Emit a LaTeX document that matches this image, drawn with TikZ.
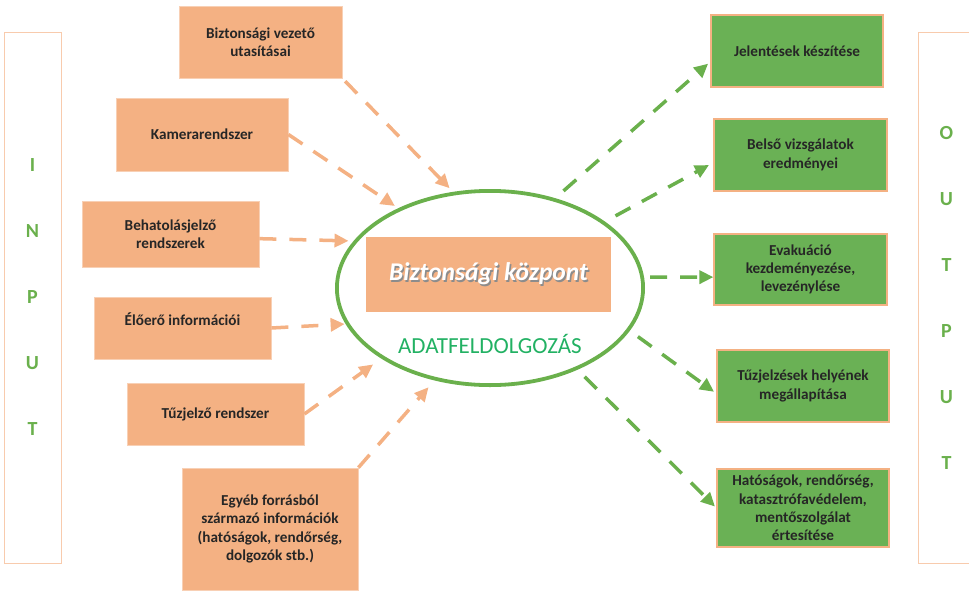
\documentclass[tikz,border=0pt]{standalone}
\usepackage{fontspec}
\setmainfont{Carlito}
\usepackage{xcolor}
\usepackage{tikz}
\usetikzlibrary{arrows.meta, shapes.geometric}

\definecolor{boxorange}{HTML}{F4B183}
\definecolor{boxgreen}{HTML}{6AB155}
\definecolor{linegreen}{HTML}{6AB04C}
\definecolor{framecol}{HTML}{F8CBAD}
\definecolor{titlegreen}{HTML}{22B163}
\definecolor{txt}{HTML}{262626}

\newcommand{\shadowed}[1]{\makebox[0pt][l]{\hspace{1.4pt}\raisebox{-1.4pt}{\textcolor{black!45}{#1}}}\textcolor{white}{#1}}

\begin{document}
\begin{tikzpicture}[
  x=1pt, y=-1pt,
  font=\fontsize{15.2}{18.3}\selectfont\bfseries,
  B/.style={align=center, inner sep=2pt, text=txt},
  src/.style={B, fill=boxorange, draw=boxorange!60!white, line width=0.8pt},
  res/.style={B, fill=boxgreen, draw=boxorange, line width=1.2pt},
  sideframe/.style={draw=framecol, line width=1pt, minimum width=57pt, minimum height=531pt,
    align=center, text=linegreen, font=\fontsize{20}{66}\selectfont\bfseries},
  inarr/.style={-{Triangle[length=14pt, width=13pt]}, draw=boxorange, line width=3.5pt,
    dash pattern=on 17pt off 13pt},
  outarr/.style={inarr, draw=linegreen}
]
\useasboundingbox (0,0) rectangle (969,592);

% side frames
\node[sideframe] (inp)  at (32.5,297.5)  {I\\N\\P\\U\\T};
\node[sideframe] (outp) at (946.5,297.5) {O\\U\\T\\P\\U\\T};

% centre
\node[ellipse, draw=linegreen, line width=3.8pt, minimum width=306.2pt,
  minimum height=194.2pt, inner sep=0pt] (hub) at (490,288) {};
\node[src, draw=none, minimum width=245pt, minimum height=75pt, text=white,
  font=\fontsize{25.5}{28}\selectfont\bfseries\itshape] (core) at (488.5,274.5)
  {\shadowed{Biztonsági központ}};
\node[anchor=base, text=titlegreen, font=\fontsize{23}{26}\selectfont] (proc)
  at (490,353) {ADATFELDOLGOZÁS};

% inputs
\node[src, minimum width=163pt, minimum height=72pt] (vez) at (260.5,42)
  {Biztonsági vezető\\utasításai};
\node[src, minimum width=172pt, minimum height=73pt] (kam) at (202,134.5)
  {Kamerarendszer};
\node[src, minimum width=177pt, minimum height=66pt] (beh) at (170.5,234)
  {Behatolásjelző\\rendszerek};
\node[src, minimum width=177pt, minimum height=62pt, text depth=18pt] (elo) at (182.5,328)
  {Élőerő információi};
\node[src, minimum width=177pt, minimum height=62pt] (tuz) at (215.5,414)
  {Tűzjelző rendszer};
\node[src, minimum width=176pt, minimum height=122pt] (egy) at (270,529)
  {Egyéb forrásból\\származó információk\\(hatóságok, rendőrség,\\dolgozók stb.)};

% outputs
\node[res, minimum width=172pt, minimum height=72pt] (jel) at (797,51)
  {Jelentések készítése};
\node[res, minimum width=173pt, minimum height=72pt] (bel) at (800.5,155)
  {Belső vizsgálatok\\eredményei};
\node[res, minimum width=173pt, minimum height=71pt] (eva) at (800.5,269.5)
  {Evakuáció\\kezdeményezése,\\levezénylése};
\node[res, minimum width=172pt, minimum height=72pt] (tfj) at (803,386)
  {Tűzjelzések helyének\\megállapítása};
\node[res, minimum width=172pt, minimum height=78pt] (hat) at (803,508)
  {Hatóságok, rendőrség,\\katasztrófavédelem,\\mentőszolgálat\\értesítése};

% input arrows
\draw[inarr, shorten <=4pt, shorten >=5pt] (vez.south east) -- (hub.111);
\draw[inarr, shorten >=4pt] (kam.east) -- (hub.139);
\draw[inarr, shorten >=5pt] (beh.-3) -- (hub.161);
\draw[inarr, shorten >=1pt] (elo.east) -- (hub.194);
\draw[inarr, shorten >=10pt] (tuz.east) -- (hub.213);
\draw[inarr, shorten >=9pt] (egy.north east) -- (hub.239);

% output arrows
\draw[outarr, shorten <=11pt, shorten >=3pt] (hub.54) -- (jel.187);
\draw[outarr, shorten <=12pt, shorten >=5pt] (hub.30) -- (bel.185);
\draw[outarr, shorten <=6pt] (hub.4) -- (eva.185);
\draw[outarr, shorten <=10pt, shorten >=3pt] (hub.-17) -- (tfj.185);
\draw[outarr, shorten <=10pt, shorten >=2pt] (hub.-43) -- (hat.west);
\end{tikzpicture}
\end{document}
